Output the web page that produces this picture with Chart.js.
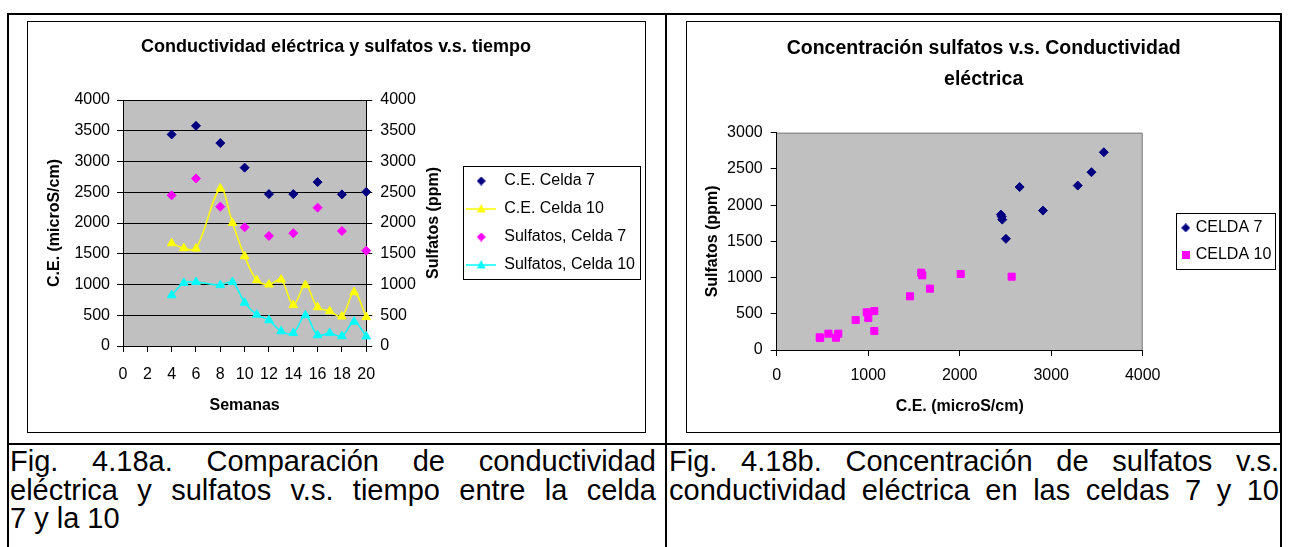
<!DOCTYPE html>
<html>
<head>
<meta charset="utf-8">
<script src="https://cdn.jsdelivr.net/npm/chart.js@4.4.1/dist/chart.umd.min.js"></script>
<style>
  body { margin: 0; background: #fff; width: 1289px; height: 547px; overflow: hidden; position: relative; font-family: "Liberation Sans", Arial, sans-serif; }
  .rule { position: absolute; background: #000; z-index: 3; }
  .frame { position: absolute; border: 1px solid #000; box-sizing: border-box; }
  canvas { position: absolute; z-index: 2; }
  .caption { position: absolute; font-size: 29px; line-height: 28.5px; color: #000; }
  .caption .j { text-align: justify; text-align-last: justify; }
</style>
</head>
<body>
<div class="rule" style="left:7px;top:13px;width:1275px;height:2px"></div>
<div class="rule" style="left:7px;top:13px;width:2px;height:534px"></div>
<div class="rule" style="left:665px;top:13px;width:2px;height:534px"></div>
<div class="rule" style="left:1280px;top:13px;width:2px;height:534px"></div>
<div class="rule" style="left:7px;top:443px;width:1275px;height:2px"></div>

<div class="frame" style="left:27px;top:21px;width:619px;height:412px"></div>
<div class="frame" style="left:686px;top:21px;width:594px;height:412px"></div>
<canvas id="chart-time" width="620" height="411" style="left:27px;top:21px"></canvas>
<canvas id="chart-scatter" width="597" height="411" style="left:686px;top:21px"></canvas>

<div class="caption" style="left:10px;top:447px;width:646px">
  <div class="j">Fig. 4.18a. Comparación de conductividad</div>
  <div class="j">eléctrica y sulfatos v.s. tiempo entre la celda</div>
  <div>7 y la 10</div>
</div>
<div class="caption" style="left:669px;top:447px;width:610px">
  <div class="j">Fig. 4.18b. Concentración de sulfatos v.s.</div>
  <div class="j">conductividad eléctrica en las celdas 7 y 10</div>
</div>

<script>
const FONT = "'Liberation Sans', Arial, sans-serif";
const NAVY = '#000080';
const MAGENTA = '#FF00FF';
const YELLOW = '#FFFF00';
const CYAN = '#00FFFF';

// Fig. 4.18a - weeks vs C.E. / sulfates
const semanasCelda7 = [4, 6, 8, 10, 12, 14, 16, 18, 20];
const ceCelda7 = [3440, 3580, 3300, 2900, 2470, 2470, 2665, 2465, 2505];
const sulfatosCelda7 = [2450, 2725, 2265, 1930, 1790, 1835, 2250, 1870, 1550];
const semanasCelda10 = [4, 5, 6, 8, 9, 10, 11, 12, 13, 14, 15, 16, 17, 18, 19, 20];
const ceCelda10 = [1670, 1590, 1585, 2560, 2000, 1460, 1070, 1000, 1080, 665, 990, 630, 565, 480, 875, 470];
const sulfatosCelda10 = [825, 1025, 1040, 990, 1040, 705, 510, 420, 240, 210, 500, 175, 210, 160, 395, 155];
const semanasTicks = { min: 0, max: 20, step: 2 };
const timeAxisTicks = { min: 0, max: 4000, step: 500 };

// Fig. 4.18b - C.E. vs sulfates
const scatterCe7 = [3575, 3440, 3290, 2655, 2910, 2450, 2460, 2465, 2505];
const scatterSulf7 = [2730, 2455, 2270, 2250, 1925, 1870, 1840, 1800, 1535];
const scatterCe10 = [470, 475, 565, 648, 673, 863, 984, 1001, 1067, 1067, 1457, 1580, 1591, 1675, 2011, 2568];
const scatterSulf10 = [175, 165, 225, 170, 225, 414, 520, 442, 538, 262, 741, 1067, 1031, 847, 1049, 1012];
const scatterXTicks = { min: 0, max: 4000, step: 1000 };
const scatterYTicks = { min: 0, max: 3000, step: 500 };

const pairs = (xs, ys) => xs.map((x, i) => ({ x, y: ys[i] }));
const plainNumber = (v) => String(v);

function markerCanvas(shape, color, size, lineWidth) {
  const w = lineWidth || size;
  const c = document.createElement('canvas');
  c.width = w;
  c.height = size;
  const g = c.getContext('2d');
  const cx = w / 2, cy = size / 2, r = size / 2;
  if (lineWidth) {
    g.strokeStyle = color;
    g.lineWidth = 1.5;
    g.beginPath();
    g.moveTo(0, cy);
    g.lineTo(w, cy);
    g.stroke();
  }
  g.fillStyle = color;
  g.beginPath();
  if (shape === 'diamond') {
    g.moveTo(cx, cy - r); g.lineTo(cx + r, cy); g.lineTo(cx, cy + r); g.lineTo(cx - r, cy);
  } else if (shape === 'triangle') {
    g.moveTo(cx, cy - r); g.lineTo(cx + r * 0.9, cy + r * 0.7); g.lineTo(cx - r * 0.9, cy + r * 0.7);
  } else {
    g.rect(cx - r, cy - r, size, size);
  }
  g.closePath();
  g.fill();
  return c;
}

const plotBackground = {
  id: 'plotBackground',
  beforeDraw(chart, args, opts) {
    const { ctx, chartArea: a } = chart;
    ctx.save();
    ctx.fillStyle = opts.color;
    ctx.fillRect(a.left, a.top, a.right - a.left, a.bottom - a.top);
    if (opts.edgeColor) {
      ctx.strokeStyle = opts.edgeColor;
      ctx.lineWidth = 1;
      ctx.beginPath();
      ctx.moveTo(a.left, a.top + 0.5);
      ctx.lineTo(a.right - 0.5, a.top + 0.5);
      ctx.lineTo(a.right - 0.5, a.bottom);
      ctx.stroke();
    }
    ctx.restore();
  },
};

const legendFrame = {
  id: 'legendFrame',
  afterDraw(chart, args, opts) {
    const boxes = chart.legend?.legendHitBoxes;
    if (!boxes || !boxes.length) return;
    const last = boxes[boxes.length - 1];
    const left = Math.round(boxes[0].left - opts.left) + 0.5;
    const right = Math.round(Math.max(...boxes.map((b) => b.left + b.width)) + opts.right) + 0.5;
    const top = Math.round(boxes[0].top - opts.top) + 0.5;
    const bottom = Math.round(last.top + last.height + opts.bottom) + 0.5;
    const ctx = chart.ctx;
    ctx.save();
    ctx.strokeStyle = '#000';
    ctx.lineWidth = 1;
    ctx.strokeRect(left, top, right - left, bottom - top);
    ctx.restore();
  },
};

// Excel writes the secondary axis title bottom-to-top, Chart.js does not
const sideTitle = {
  id: 'sideTitle',
  afterDraw(chart, args, opts) {
    if (!opts.text) return;
    const { ctx, chartArea: a } = chart;
    ctx.save();
    ctx.translate(a.right + opts.offset, (a.top + a.bottom) / 2);
    ctx.rotate(-Math.PI / 2);
    ctx.font = 'bold 16px ' + FONT;
    ctx.fillStyle = '#000';
    ctx.textAlign = 'center';
    ctx.textBaseline = 'middle';
    ctx.fillText(opts.text, 0, 0);
    ctx.restore();
  },
};

const tickFont = { family: FONT, size: 16 };
const titleFont = { family: FONT, size: 16, weight: 'bold' };

function legendWith(markers) {
  return (chart) => {
    const items = Chart.defaults.plugins.legend.labels.generateLabels(chart);
    items.forEach((it, i) => { it.pointStyle = markers[i]; });
    return items;
  };
}

function renderTimeChart() {
  const canvas = document.getElementById('chart-time');
  const markers = [
    markerCanvas('diamond', NAVY, 9),
    markerCanvas('triangle', YELLOW, 10, 30),
    markerCanvas('diamond', MAGENTA, 9),
    markerCanvas('triangle', CYAN, 10, 30),
  ];

  new Chart(canvas, {
    type: 'scatter',
    data: {
      datasets: [
        {
          label: 'C.E. Celda 7',
          data: pairs(semanasCelda7, ceCelda7),
          yAxisID: 'y',
          pointStyle: 'rectRot',
          pointRadius: 4.5,
          backgroundColor: NAVY,
          borderColor: NAVY,
          clip: false,
        },
        {
          label: 'C.E. Celda 10',
          data: pairs(semanasCelda10, ceCelda10),
          yAxisID: 'y',
          showLine: true,
          tension: 0.35,
          borderWidth: 1.5,
          borderColor: YELLOW,
          backgroundColor: YELLOW,
          pointStyle: 'triangle',
          pointRadius: 5,
          pointBorderWidth: 1,
          clip: false,
        },
        {
          label: 'Sulfatos, Celda 7',
          data: pairs(semanasCelda7, sulfatosCelda7),
          yAxisID: 'y2',
          pointStyle: 'rectRot',
          pointRadius: 4.5,
          backgroundColor: MAGENTA,
          borderColor: MAGENTA,
          clip: false,
        },
        {
          label: 'Sulfatos, Celda 10',
          data: pairs(semanasCelda10, sulfatosCelda10),
          yAxisID: 'y2',
          showLine: true,
          tension: 0.35,
          borderWidth: 1.5,
          borderColor: CYAN,
          backgroundColor: CYAN,
          pointStyle: 'triangle',
          pointRadius: 5,
          pointBorderWidth: 1,
          clip: false,
        },
      ],
    },
    plugins: [plotBackground, legendFrame, sideTitle],
    options: {
      responsive: false,
      animation: false,
      layout: { padding: { top: 0, left: 0, bottom: 0, right: 2 } },
      plugins: {
        plotBackground: { color: '#C0C0C0' },
        legendFrame: { left: 3, right: 5, top: 7, bottom: 6 },
        sideTitle: { text: 'Sulfatos (ppm)', offset: 67 },
        tooltip: { enabled: false },
        title: {
          display: true,
          text: 'Conductividad eléctrica y sulfatos v.s. tiempo',
          color: '#000',
          font: { family: FONT, size: 18, weight: 'bold', lineHeight: 1.2 },
          padding: { top: 15, bottom: 42.4 },
        },
        legend: {
          position: 'right',
          fullSize: false,
          maxWidth: 400,
          labels: {
            usePointStyle: true,
            pointStyleWidth: 30,
            padding: 12,
            color: '#000',
            font: { family: FONT, size: 16 },
            generateLabels: legendWith(markers),
          },
        },
      },
      scales: {
        x: {
          type: 'linear',
          min: semanasTicks.min,
          max: semanasTicks.max,
          ticks: { stepSize: semanasTicks.step, padding: 13, color: '#000', font: tickFont, autoSkip: false, maxRotation: 0, callback: plainNumber },
          grid: { drawOnChartArea: false, tickLength: 6, color: '#000' },
          border: { color: '#000' },
          title: { display: true, text: 'Semanas', color: '#000', font: titleFont, padding: { top: 0, bottom: 17 } },
          afterFit: (s) => { s.height = 86; },
        },
        y: {
          min: timeAxisTicks.min,
          max: timeAxisTicks.max,
          ticks: { stepSize: timeAxisTicks.step, padding: 7, color: '#000', font: tickFont, callback: plainNumber },
          grid: { color: '#000', tickLength: 6 },
          border: { color: '#000' },
          title: { display: true, text: 'C.E. (microS/cm)', color: '#000', font: titleFont, padding: { top: 18, bottom: 0 } },
          afterFit: (s) => { s.width = 96; },
        },
        y2: {
          position: 'right',
          min: timeAxisTicks.min,
          max: timeAxisTicks.max,
          ticks: { stepSize: timeAxisTicks.step, padding: 8, color: '#000', font: tickFont, callback: plainNumber },
          grid: { drawOnChartArea: false, tickLength: 6, color: '#000' },
          border: { color: '#000' },
          afterFit: (s) => { s.width = 88; },
        },
      },
    },
  });
}

function renderScatterChart() {
  const canvas = document.getElementById('chart-scatter');
  const markers = [
    markerCanvas('diamond', NAVY, 9),
    markerCanvas('square', MAGENTA, 8),
  ];

  new Chart(canvas, {
    type: 'scatter',
    data: {
      datasets: [
        {
          label: 'CELDA 7',
          data: pairs(scatterCe7, scatterSulf7),
          pointStyle: 'rectRot',
          pointRadius: 4.5,
          backgroundColor: NAVY,
          borderColor: NAVY,
          clip: false,
        },
        {
          label: 'CELDA 10',
          data: pairs(scatterCe10, scatterSulf10),
          pointStyle: 'rect',
          pointRadius: 5,
          backgroundColor: MAGENTA,
          borderColor: MAGENTA,
          clip: false,
        },
      ],
    },
    plugins: [plotBackground, legendFrame],
    options: {
      responsive: false,
      animation: false,
      layout: { padding: { top: 0, left: 0, bottom: 0, right: 1.7 } },
      plugins: {
        plotBackground: { color: '#C0C0C0', edgeColor: '#808080' },
        legendFrame: { left: 7.7, right: 4, top: 7, bottom: 6 },
        tooltip: { enabled: false },
        title: {
          display: true,
          text: ['Concentración sulfatos v.s. Conductividad', 'eléctrica'],
          color: '#000',
          font: { family: FONT, size: 19.5, weight: 'bold', lineHeight: 1.6 },
          padding: { top: 12, bottom: 37.3 },
        },
        legend: {
          position: 'right',
          fullSize: false,
          maxWidth: 400,
          labels: {
            usePointStyle: true,
            pointStyleWidth: 4,
            padding: 11,
            color: '#000',
            font: { family: FONT, size: 16 },
            generateLabels: legendWith(markers),
          },
        },
      },
      scales: {
        x: {
          min: scatterXTicks.min,
          max: scatterXTicks.max,
          ticks: { stepSize: scatterXTicks.step, padding: 10, color: '#000', font: tickFont, maxRotation: 0, callback: plainNumber },
          grid: { drawOnChartArea: false, tickLength: 6, color: '#000' },
          border: { color: '#000' },
          title: { display: true, text: 'C.E. (microS/cm)', color: '#000', font: titleFont, padding: { top: 0, bottom: 15.7 } },
          afterFit: (s) => { s.height = 82; },
        },
        y: {
          min: scatterYTicks.min,
          max: scatterYTicks.max,
          ticks: { stepSize: scatterYTicks.step, padding: 8, color: '#000', font: tickFont, callback: plainNumber },
          grid: { drawOnChartArea: false, tickLength: 6, color: '#000' },
          border: { color: '#000' },
          title: { display: true, text: 'Sulfatos (ppm)', color: '#000', font: titleFont, padding: { top: 17, bottom: 0 } },
          afterFit: (s) => { s.width = 90.7; },
        },
        // empty spacer between the plot and the legend
        gap: {
          position: 'right',
          ticks: { display: false },
          grid: { display: false },
          border: { display: false },
          afterFit: (s) => { s.width = 30; },
        },
      },
    },
  });
}

renderTimeChart();
renderScatterChart();
</script>
</body>
</html>
